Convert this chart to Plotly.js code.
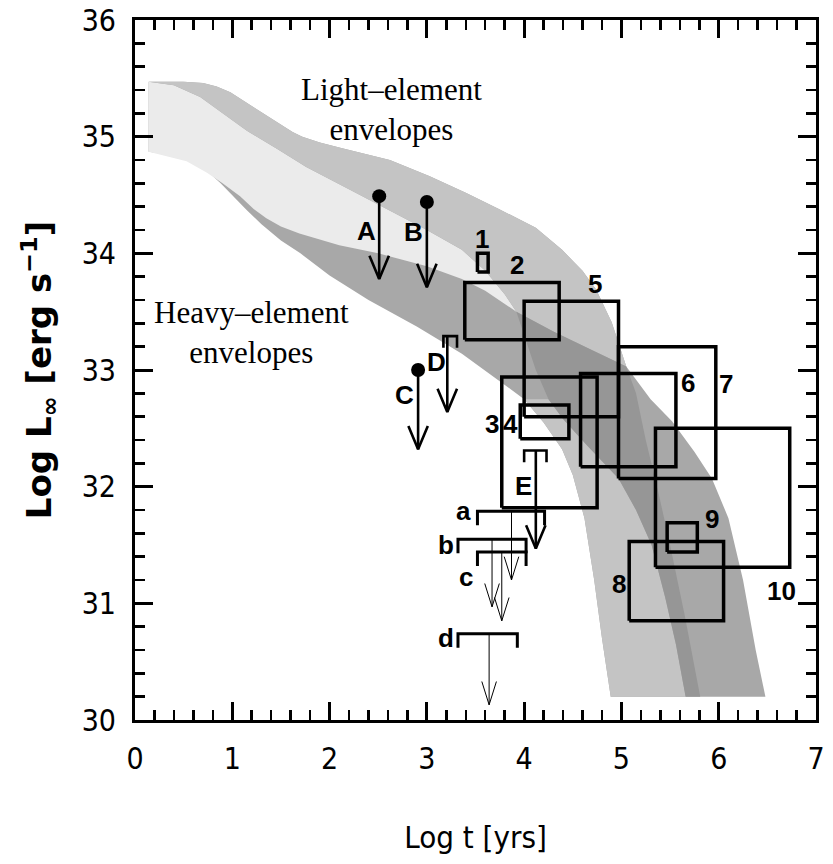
<!DOCTYPE html>
<html><head><meta charset="utf-8">
<script src="https://cdn.plot.ly/plotly-3.0.1.min.js"></script>
<style>html,body{margin:0;padding:0;background:#fff}#chart{width:833px;height:864px}</style>
</head><body><div id="chart"></div>
<script>
// ---- band boundary curves (Log t, Log L) ----
const upperX = [0.14,0.5,0.7,0.84,0.98,1.11,1.3,1.49,1.62,1.72,1.9,2.13,2.62,3.03,3.4,3.74,4.12,4.39,4.6,4.74,4.9,5.05];
const upperY = [35.47,35.47,35.46,35.43,35.38,35.31,35.21,35.11,35.04,35.0,34.95,34.9,34.8,34.66,34.52,34.38,34.22,34.03,33.85,33.69,33.41,33.03];
const rightX = [5.05,5.3,5.52,5.75,5.93,6.1,6.25,6.38,6.48];
const rightY = [33.03,32.75,32.56,32.3,32.07,31.73,31.2,30.6,30.2];
const leftX = [0.14,0.5,0.62,0.75,0.88,1.0,1.15,1.3,1.5,1.7,2.0,2.4,2.9,3.36,3.71,4.0,4.2,4.39,4.5,4.62,4.72,4.8,4.89];
const leftY = [34.87,34.83,34.78,34.7,34.6,34.5,34.37,34.25,34.11,34.0,33.81,33.6,33.37,33.14,32.93,32.75,32.55,32.32,32.1,31.73,31.2,30.7,30.2];
const lightLowX = [0.14,0.4,0.67,0.9,1.15,1.45,1.76,2.2,2.5,3.0,3.36,3.6,3.8,3.92];
const lightLowY = [35.47,35.44,35.34,35.2,35.05,34.9,34.74,34.55,34.42,34.2,34.03,33.85,33.65,33.5];
const heavyTopX = [0.14,0.53,0.74,0.9,1.08,1.22,1.35,1.5,1.69,2.1,2.5,3.0,3.36,3.6,3.92];
const heavyTopY = [34.87,34.79,34.69,34.6,34.49,34.38,34.3,34.23,34.17,34.07,34.0,33.89,33.78,33.68,33.5];
const crossX = [3.92,4.3,4.7,5.05];
const crossY = [33.5,33.33,33.17,33.03];
const overlapRightX = [5.05,5.15,5.25,5.38,5.5,5.65,5.81];
const overlapRightY = [33.03,32.8,32.4,31.95,31.5,30.9,30.2];
const overlapLeftX = [3.92,4.0,4.12,4.25,4.4,4.65,4.97,5.15,5.31,5.45,5.56,5.66];
const overlapLeftY = [33.5,33.3,33.0,32.75,32.58,32.35,32.07,31.8,31.5,31.05,30.65,30.2];

// ---- error boxes ----
const boxNames = ['1','2','3','4','5','6','7','8','9','10'];
const boxX0 = [3.52,3.39,3.77,3.96,4.0,4.58,4.97,5.08,5.47,5.35];
const boxX1 = [3.63,4.36,4.75,4.46,4.97,5.56,5.97,6.05,5.78,6.73];
const boxY0 = [33.84,33.26,31.82,32.41,32.6,32.17,32.07,30.85,31.44,31.31];
const boxY1 = [34.0,33.75,32.94,32.7,33.59,32.97,33.2,31.53,31.69,32.5];
const boxLabelX = [3.57,3.93,3.67,3.86,4.73,5.68,6.07,4.98,5.93,6.65];
const boxLabelY = [34.12,33.9,32.54,32.54,33.74,32.89,32.88,31.17,31.72,31.11];

// ---- upper limits with a measured age (dots) ----
const dotNames = ['A','B','C'];
const dotX = [2.51,3.0,2.91];
const dotY = [34.49,34.44,33.0];
const dotTip = [33.78,33.71,32.32];
const dotLabelX = [2.38,2.86,2.77];
const dotLabelY = [34.19,34.18,32.79];

// ---- upper limits with an age range, thick ----
const barNames = ['D','E'];
const barX0 = [3.17,4.0];
const barX1 = [3.31,4.23];
const barY = [33.29,32.31];
const barPt = [3.21,4.12];
const barTip = [32.64,31.47];
const barLabelX = [3.1,3.99];
const barLabelY = [33.07,32.01];

// ---- upper limits with an age range, thin ----
const thinNames = ['a','b','c','d'];
const thinX0 = [3.52,3.32,3.52,3.32];
const thinX1 = [4.21,4.02,4.02,3.93];
const thinY = [31.79,31.55,31.44,30.74];
const thinPt = [3.87,3.67,3.77,3.64];
const thinTip = [31.2,30.97,30.85,30.13];
const thinLabelX = [3.38,3.2,3.4,3.2];
const thinLabelY = [31.79,31.5,31.23,30.7];

const rev = a => a.slice().reverse();
const traces = [];
const band = (x, y, c) => traces.push({x, y, type:'scatter', mode:'lines', fill:'toself', fillcolor:c,
  line:{width:0}, hoverinfo:'skip', showlegend:false});

band(upperX.concat(rightX.slice(1), rev(leftX)), upperY.concat(rightY.slice(1), rev(leftY)), '#a8a8a8');
band(lightLowX.concat(rev(heavyTopX)), lightLowY.concat(rev(heavyTopY)), '#ebebeb');
band(upperX.concat(rev(crossX), rev(lightLowX)), upperY.concat(rev(crossY), rev(lightLowY)), '#c4c4c4');
band(leftX.slice(15).concat(rev(overlapLeftX.slice(3))), leftY.slice(15).concat(rev(overlapLeftY.slice(3))), '#c4c4c4');
band(crossX.concat(overlapRightX.slice(1), rev(overlapLeftX)), crossY.concat(overlapRightY.slice(1), rev(overlapLeftY)), '#969696');

// boxes
let bx = [], by = [];
for (let i = 0; i < boxNames.length; i++) {
  bx.push(boxX0[i], boxX1[i], boxX1[i], boxX0[i], boxX0[i], null);
  by.push(boxY0[i], boxY0[i], boxY1[i], boxY1[i], boxY0[i], null);
}
traces.push({x:bx, y:by, type:'scatter', mode:'lines', line:{color:'#000', width:3.5}, hoverinfo:'skip', showlegend:false});

// arrows
const headW = 0.1, headH = 0.2, thinW = 0.075, tickH = 0.1, thinTickH = 0.12;
let ax = [], ay = [];
function arrow(arrX, arrY, x, y0, y1, w) {
  arrX.push(x, x, null, x - w, x, x + w, null);
  arrY.push(y0, y1, null, y1 + headH, y1, y1 + headH, null);
}
for (let i = 0; i < dotNames.length; i++) arrow(ax, ay, dotX[i], dotY[i], dotTip[i], headW);
for (let i = 0; i < barNames.length; i++) {
  arrow(ax, ay, barPt[i], barY[i], barTip[i], headW);
  ax.push(barX0[i], barX0[i], barX1[i], barX1[i], null);
  ay.push(barY[i] - tickH, barY[i], barY[i], barY[i] - tickH, null);
}
traces.push({x:ax, y:ay, type:'scatter', mode:'lines', line:{color:'#000', width:2.6}, hoverinfo:'skip', showlegend:false});
let tx = [], ty = [], kx = [], ky = [];
for (let i = 0; i < thinNames.length; i++) {
  arrow(tx, ty, thinPt[i], thinY[i], thinTip[i], thinW);
  kx.push(thinX0[i], thinX0[i], thinX1[i], thinX1[i], null);
  ky.push(thinY[i] - thinTickH, thinY[i], thinY[i], thinY[i] - thinTickH, null);
}
traces.push({x:tx, y:ty, type:'scatter', mode:'lines', line:{color:'#000', width:1}, hoverinfo:'skip', showlegend:false});
traces.push({x:kx, y:ky, type:'scatter', mode:'lines', line:{color:'#000', width:3}, hoverinfo:'skip', showlegend:false});
traces.push({x:dotX, y:dotY, type:'scatter', mode:'markers', marker:{color:'#000', size:14, symbol:'circle'}, hoverinfo:'skip', showlegend:false});

const labFont = {family:'Liberation Sans, Arial, sans-serif', size:26, color:'#000', weight:700};
const ann = [];
const lab = (t, x, y) => ann.push({x, y, xref:'x', yref:'y', text:t, showarrow:false, font:labFont, xanchor:'center', yanchor:'middle'});
boxNames.forEach((t, i) => lab(t, boxLabelX[i], boxLabelY[i]));
dotNames.forEach((t, i) => lab(t, dotLabelX[i], dotLabelY[i]));
barNames.forEach((t, i) => lab(t, barLabelX[i], barLabelY[i]));
thinNames.forEach((t, i) => lab(t, thinLabelX[i], thinLabelY[i]));
const serif = {family:'Liberation Serif, Times New Roman, serif', size:31, color:'#000'};
ann.push({x:2.64, y:35.23, xref:'x', yref:'y', text:'Light–element<br>envelopes', showarrow:false, font:serif, align:'center', xanchor:'center', yanchor:'middle'});
ann.push({x:1.2, y:33.32, xref:'x', yref:'y', text:'Heavy–element<br>envelopes', showarrow:false, font:serif, align:'center', xanchor:'center', yanchor:'middle'});

const tickFont = {family:'DejaVu Sans Condensed, DejaVu Sans, sans-serif', size:30, color:'#000'};
const axisCommon = {
  showgrid:false, zeroline:false, showline:true, linewidth:3, linecolor:'#000', mirror:'ticks',
  ticks:'inside', ticklen:18, tickwidth:3, tickcolor:'#000', dtick:1, tickfont:tickFont,
  minor:{ticks:'inside', dtick:0.2, ticklen:10, tickwidth:2.5, tickcolor:'#000'},
  ticklabelstandoff:10
};
const layout = {
  width:833, height:864, margin:{l:135, r:17, t:20, b:144},
  paper_bgcolor:'#fff', plot_bgcolor:'#fff', showlegend:false,
  xaxis:Object.assign({}, axisCommon, {range:[0,7], tick0:0,
    title:{text:'Log t [yrs]', font:{family:'DejaVu Sans Condensed, DejaVu Sans, sans-serif', size:31, color:'#000'}, standoff:52}}),
  yaxis:Object.assign({}, axisCommon, {range:[30,36], tick0:30,
    title:{text:'Log L<sub>∞</sub> [erg s<sup>−1</sup>]', font:{family:'DejaVu Sans, sans-serif', size:34, color:'#000', weight:700}, standoff:20}}),
  annotations:ann
};
Plotly.newPlot('chart', traces, layout, {staticPlot:true});
</script></body></html>
